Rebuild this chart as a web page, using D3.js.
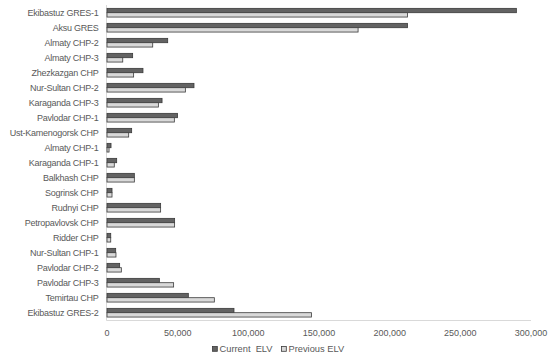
<!DOCTYPE html>
<html><head><meta charset="utf-8">
<script src="https://cdn.jsdelivr.net/npm/d3@7"></script>
<style>body{margin:0;background:#fff}text{font-family:"Liberation Sans",Arial,sans-serif}</style>
</head><body><svg id="c" width="550" height="357"></svg>
<script>
const categories = ["Ekibastuz GRES-1","Aksu GRES","Almaty CHP-2","Almaty CHP-3","Zhezkazgan CHP","Nur-Sultan CHP-2","Karaganda CHP-3","Pavlodar CHP-1","Ust-Kamenogorsk CHP","Almaty CHP-1","Karaganda CHP-1","Balkhash CHP","Sogrinsk CHP","Rudnyi CHP","Petropavlovsk CHP","Ridder CHP","Nur-Sultan CHP-1","Pavlodar CHP-2","Pavlodar CHP-3","Temirtau CHP","Ekibastuz GRES-2"];
const currentELV = [290000,213000,43300,18500,25800,61900,39300,50300,17800,3200,7200,19700,3900,38300,48200,3000,6500,9300,37400,57900,90200];
const previousELV = [213000,178000,32700,11500,19200,55800,36700,48000,15700,1800,5500,19700,3900,38300,48200,3000,6700,10500,47500,76300,145000];
const seriesNames = ["Current  ELV","Previous ELV"];
const xTicks = [0,50000,100000,150000,200000,250000,300000];

const svg = d3.select("#c");
const x = d3.scaleLinear().domain([0,300000]).range([106.5,530.5]);
const y = d3.scaleBand().domain(categories).range([5.2,320.2]).paddingInner(0.42).paddingOuter(0.21);
const sub = d3.scaleBand().domain([0,1]).range([0,y.bandwidth()]);
const fills = ["#636363","#d9d9d9"];
const series = [currentELV, previousELV];

// axes lines
svg.append("line").attr("x1",x(0)).attr("x2",x(0)).attr("y1",5).attr("y2",320.5).attr("stroke","#d9d9d9");
svg.append("line").attr("x1",x(0)).attr("x2",531).attr("y1",320.5).attr("y2",320.5).attr("stroke","#d9d9d9");

series.forEach((vals,s)=>{
  svg.append("g").selectAll("rect").data(vals).join("rect")
    .attr("x",x(0)+0.5)
    .attr("y",(d,i)=>y(categories[i])+sub(s))
    .attr("width",d=>Math.max(0,x(d)-x(0)-0.5))
    .attr("height",sub.bandwidth())
    .attr("fill",fills[s]).attr("stroke","#3a3a3a").attr("stroke-width",0.8);
});

// category labels
const yAxis = d3.axisLeft(y).tickSize(0).tickPadding(8);
const gy = svg.append("g").attr("transform",`translate(${x(0)},0)`).call(yAxis);
gy.select(".domain").remove();
gy.selectAll("text").attr("fill","#595959").style("font-size","9px").style("letter-spacing","-0.25px").style("font-family","'Liberation Sans',Arial,sans-serif");

// x axis labels
const xAxis = d3.axisBottom(x).tickValues(xTicks).tickSize(0).tickPadding(0).tickFormat(d3.format(","));
const gx = svg.append("g").attr("transform","translate(0,321)").call(xAxis);
gx.select(".domain").remove();
gx.selectAll("text").attr("dy",null).attr("y",15).attr("fill","#595959").style("font-size","9px").style("font-family","'Liberation Sans',Arial,sans-serif");

// legend
const lg = svg.append("g");
const lx = [212.5, 281.5];
seriesNames.forEach((n,i)=>{
  lg.append("rect").attr("x",lx[i]).attr("y",346.5).attr("width",4.8).attr("height",4.8).attr("fill",fills[i]).attr("stroke","#3a3a3a").attr("stroke-width",0.8);
  lg.append("text").attr("x",lx[i]+7).attr("y",351.5).attr("fill","#595959").style("font-size","9.3px").style("white-space","pre").text(n);
});
</script></body></html>
